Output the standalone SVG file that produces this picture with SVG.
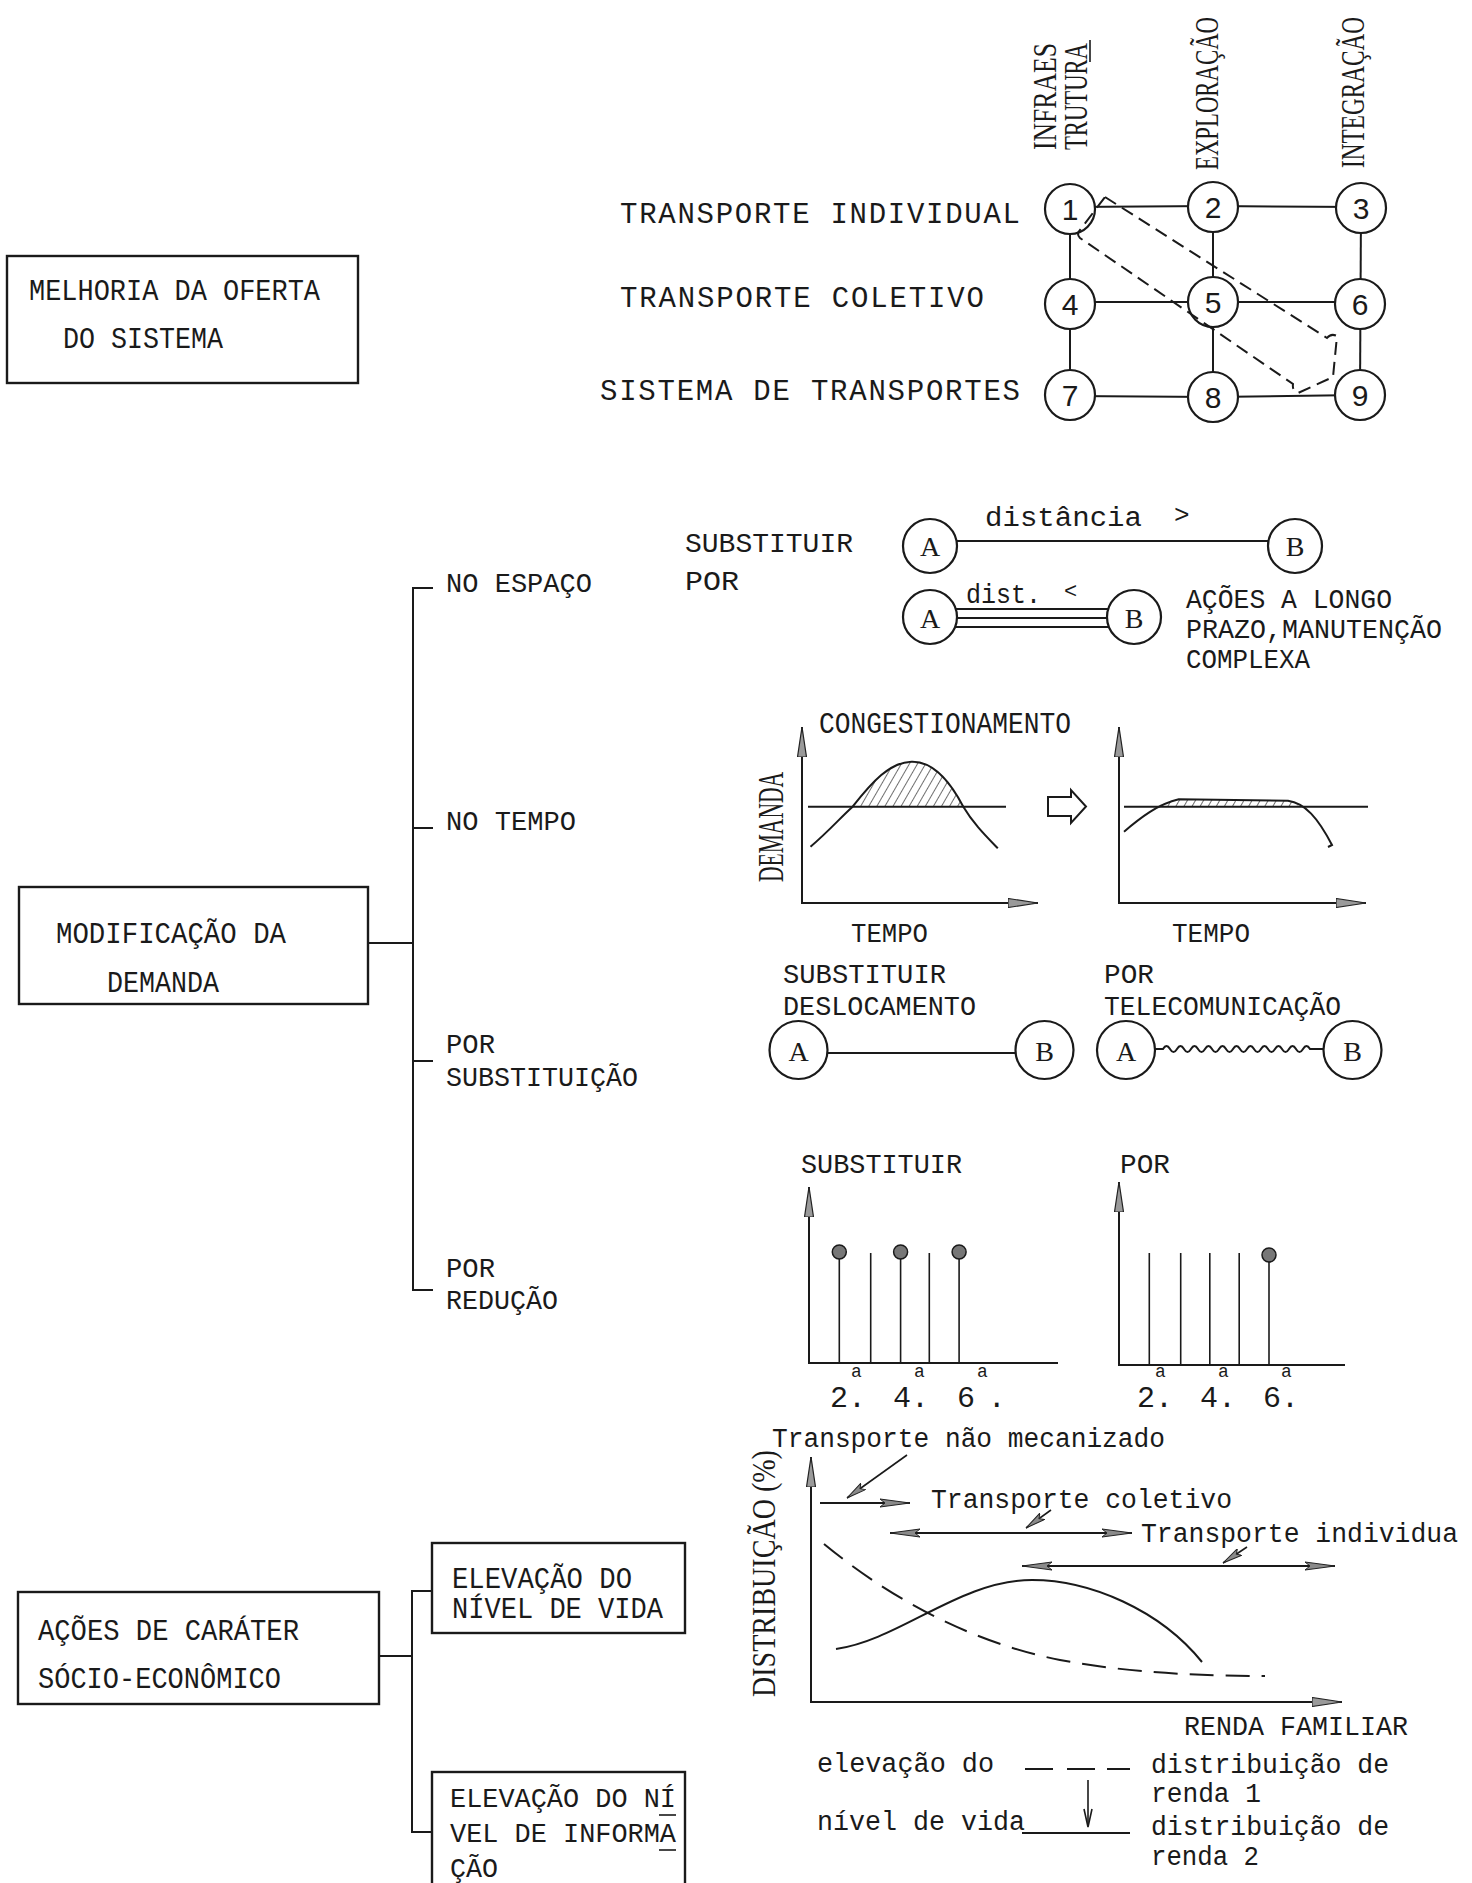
<svg xmlns="http://www.w3.org/2000/svg" width="1472" height="1883" viewBox="0 0 1472 1883">
<style>
text { fill:#1a1a1a; }
.m { font-family:"Liberation Mono", monospace; }
.s { font-family:"Liberation Serif", serif; }
.n { font-family:"Liberation Sans", sans-serif; font-size:30px; text-anchor:middle; }
.ln { stroke:#1a1a1a; stroke-width:2; fill:none; }
.thin { stroke:#1a1a1a; stroke-width:1.6; fill:none; }
.box { fill:none; stroke:#1a1a1a; stroke-width:2.4; }
.nd { fill:#fff; stroke:#1a1a1a; stroke-width:2.2; }
.dot { fill:#777; stroke:#1a1a1a; stroke-width:1.5; }
</style>
<defs>
<marker id="ah" viewBox="0 0 30 10" refX="30" refY="5" markerWidth="30" markerHeight="10" markerUnits="userSpaceOnUse" orient="auto-start-reverse">
<path d="M0,1 L30,5 L0,9 L5,5 Z" fill="#8a8a8a" stroke="#222" stroke-width="1"/>
</marker>
<marker id="ahs" viewBox="0 0 20 9" refX="20" refY="4.5" markerWidth="20" markerHeight="9" markerUnits="userSpaceOnUse" orient="auto">
<path d="M0,0.5 L20,4.5 L0,8.5 L4,4.5 Z" fill="#8a8a8a" stroke="#222" stroke-width="1"/>
</marker>
<marker id="ax" viewBox="0 0 30 10" refX="30" refY="5" markerWidth="30" markerHeight="10" markerUnits="userSpaceOnUse" orient="auto">
<path d="M0,0.5 L30,5 L0,9.5 Z" fill="#9a9a9a" stroke="#222" stroke-width="1.2"/>
</marker>
<pattern id="hatch" patternUnits="userSpaceOnUse" width="7" height="7" patternTransform="rotate(30)">
<line x1="0" y1="0" x2="0" y2="7" stroke="#222" stroke-width="1.3"/>
</pattern>
</defs>
<rect width="1472" height="1883" fill="#fff"/>

<!-- ============ TOP: MELHORIA DA OFERTA ============ -->
<g id="box-melhoria">
<rect class="box" x="7" y="256" width="351" height="127"/>
<text class="m" x="29" y="300" font-size="30" textLength="291" lengthAdjust="spacingAndGlyphs">MELHORIA DA OFERTA</text>
<text class="m" x="63" y="348" font-size="30" textLength="160" lengthAdjust="spacingAndGlyphs">DO SISTEMA</text>
</g>

<g id="grid-labels">
<text class="m" x="620" y="223" font-size="29" textLength="400" lengthAdjust="spacing">TRANSPORTE INDIVIDUAL</text>
<text class="m" x="620" y="307" font-size="29" textLength="364" lengthAdjust="spacing">TRANSPORTE COLETIVO</text>
<text class="m" x="600" y="400" font-size="29" textLength="420" lengthAdjust="spacing">SISTEMA DE TRANSPORTES</text>
<text class="s" transform="translate(1056,150) rotate(-90) scale(0.755,1)" font-size="34" textLength="141.7" lengthAdjust="spacingAndGlyphs">INFRAES</text>
<text class="s" transform="translate(1087,150) rotate(-90) scale(0.667,1)" font-size="34" textLength="160.4" lengthAdjust="spacingAndGlyphs">TRUTURA</text>
<line class="thin" x1="1090" y1="40" x2="1090" y2="62"/>
<text class="s" transform="translate(1218,170) rotate(-90) scale(0.67,1)" font-size="34" textLength="228.4" lengthAdjust="spacingAndGlyphs">EXPLORAÇÃO</text>
<text class="s" transform="translate(1364,168) rotate(-90) scale(0.683,1)" font-size="34" textLength="221.1" lengthAdjust="spacingAndGlyphs">INTEGRAÇÃO</text>
</g>

<g id="grid-edges">
<line class="ln" x1="1070" y1="207" x2="1213" y2="206"/>
<line class="ln" x1="1213" y1="206" x2="1361" y2="207"/>
<line class="ln" x1="1070" y1="302" x2="1213" y2="302"/>
<line class="ln" x1="1213" y1="302" x2="1360" y2="302"/>
<line class="ln" x1="1070" y1="396" x2="1213" y2="397"/>
<line class="ln" x1="1213" y1="397" x2="1360" y2="395"/>
<line class="ln" x1="1070" y1="209" x2="1070" y2="395"/>
<line class="ln" x1="1213" y1="207" x2="1213" y2="397"/>
<line class="ln" x1="1361" y1="208" x2="1360" y2="395"/>
</g>

<g id="node-1"><circle class="nd" cx="1070" cy="209" r="25"/><text class="n" x="1070" y="220">1</text></g>
<g id="node-2"><circle class="nd" cx="1213" cy="207" r="25"/><text class="n" x="1213" y="218">2</text></g>
<g id="node-3"><circle class="nd" cx="1361" cy="208" r="25"/><text class="n" x="1361" y="219">3</text></g>
<g id="node-4"><circle class="nd" cx="1070" cy="304" r="25"/><text class="n" x="1070" y="315">4</text></g>
<g id="node-5"><circle class="nd" cx="1213" cy="302" r="25"/><text class="n" x="1213" y="313">5</text></g>
<g id="node-6"><circle class="nd" cx="1360" cy="304" r="25"/><text class="n" x="1360" y="315">6</text></g>
<g id="node-7"><circle class="nd" cx="1070" cy="395" r="25"/><text class="n" x="1070" y="406">7</text></g>
<g id="node-8"><circle class="nd" cx="1213" cy="397" r="25"/><text class="n" x="1213" y="408">8</text></g>
<g id="node-9"><circle class="nd" cx="1360" cy="395" r="25"/><text class="n" x="1360" y="406">9</text></g>

<g id="dashed-band">
<path class="ln" stroke-dasharray="13,7" d="M1105,197 L1327,338 Q1331,333 1337,336 L1333,377 L1298,393 Q1292,391 1293,384 L1080,238 Q1076,234 1080,230 L1105,197"/>
</g>

<!-- ============ MIDDLE: MODIFICAÇÃO DA DEMANDA ============ -->
<g id="box-modificacao">
<rect class="box" x="19" y="887" width="349" height="117"/>
<text class="m" x="56" y="943" font-size="30" textLength="230" lengthAdjust="spacingAndGlyphs">MODIFICAÇÃO DA</text>
<text class="m" x="107" y="992" font-size="30" textLength="112" lengthAdjust="spacingAndGlyphs">DEMANDA</text>
</g>

<g id="connectors">
<line class="ln" x1="368" y1="943" x2="413" y2="943"/>
<line class="ln" x1="413" y1="587" x2="413" y2="1291"/>
<line class="ln" x1="412" y1="588" x2="433" y2="588"/>
<line class="ln" x1="412" y1="828" x2="433" y2="828"/>
<line class="ln" x1="412" y1="1061" x2="433" y2="1061"/>
<line class="ln" x1="412" y1="1290" x2="433" y2="1290"/>
<line class="ln" x1="379" y1="1656" x2="412" y2="1656"/>
<line class="ln" x1="412" y1="1590" x2="412" y2="1833"/>
<line class="ln" x1="411" y1="1591" x2="432" y2="1591"/>
<line class="ln" x1="411" y1="1832" x2="432" y2="1832"/>
</g>

<g id="branch-espaco"><text class="m" x="446" y="592" font-size="28" textLength="146" lengthAdjust="spacingAndGlyphs">NO ESPAÇO</text></g>
<g id="branch-tempo"><text class="m" x="446" y="830" font-size="28" textLength="130" lengthAdjust="spacingAndGlyphs">NO TEMPO</text></g>
<g id="branch-substituicao">
<text class="m" x="446" y="1053" font-size="28" textLength="49" lengthAdjust="spacingAndGlyphs">POR</text>
<text class="m" x="446" y="1086" font-size="28" textLength="192" lengthAdjust="spacingAndGlyphs">SUBSTITUIÇÃO</text>
</g>
<g id="branch-reducao">
<text class="m" x="446" y="1277" font-size="28" textLength="49" lengthAdjust="spacingAndGlyphs">POR</text>
<text class="m" x="446" y="1309" font-size="28" textLength="112" lengthAdjust="spacingAndGlyphs">REDUÇÃO</text>
</g>

<!-- NO ESPAÇO illustration -->
<g id="espaco-fig">
<text class="m" x="685" y="552" font-size="28" textLength="168" lengthAdjust="spacingAndGlyphs">SUBSTITUIR</text>
<text class="m" x="685" y="590" font-size="28" textLength="54" lengthAdjust="spacingAndGlyphs">POR</text>
<line class="ln" x1="956" y1="541" x2="1268" y2="541"/>
<circle class="nd" cx="930" cy="546" r="27"/><text class="s" x="930" y="556" font-size="28" text-anchor="middle">A</text>
<circle class="nd" cx="1295" cy="546" r="27"/><text class="s" x="1295" y="556" font-size="28" text-anchor="middle">B</text>
<text class="m" x="985" y="526" font-size="27" textLength="157" lengthAdjust="spacingAndGlyphs">distância</text>
<text class="m" x="1174" y="523" font-size="26">&gt;</text>
<line class="ln" x1="955" y1="609" x2="1108" y2="609"/>
<line class="ln" x1="957" y1="618" x2="1107" y2="618"/>
<line class="ln" x1="955" y1="627" x2="1108" y2="627"/>
<circle class="nd" cx="930" cy="617" r="27"/><text class="s" x="930" y="628" font-size="28" text-anchor="middle">A</text>
<circle class="nd" cx="1134" cy="617" r="27"/><text class="s" x="1134" y="628" font-size="28" text-anchor="middle">B</text>
<text class="m" x="966" y="603" font-size="27" textLength="75" lengthAdjust="spacingAndGlyphs">dist.</text>
<text class="m" x="1064" y="598" font-size="22">&lt;</text>
<text class="m" x="1186" y="608" font-size="28" textLength="206" lengthAdjust="spacingAndGlyphs">AÇÕES A LONGO</text>
<text class="m" x="1186" y="638" font-size="28" textLength="256" lengthAdjust="spacingAndGlyphs">PRAZO,MANUTENÇÃO</text>
<text class="m" x="1186" y="668" font-size="28" textLength="124" lengthAdjust="spacingAndGlyphs">COMPLEXA</text>
</g>

<!-- NO TEMPO illustration -->
<g id="tempo-fig">
<text class="m" x="819" y="733" font-size="30" textLength="252" lengthAdjust="spacingAndGlyphs">CONGESTIONAMENTO</text>
<text class="s" transform="translate(783,882) rotate(-90) scale(0.598,1)" font-size="36" textLength="184" lengthAdjust="spacingAndGlyphs">DEMANDA</text>
<line class="ln" x1="802" y1="904" x2="802" y2="727" marker-end="url(#ax)"/>
<line class="ln" x1="801" y1="903" x2="1038" y2="903" marker-end="url(#ax)"/>
<path d="M852.6,806.7 C872,782 890,762 911.5,761.7 C935,761 952,785 963.3,806.7 Z" fill="url(#hatch)"/>
<line class="ln" x1="808" y1="806.7" x2="1006" y2="806.7"/>
<path class="ln" d="M810.5,846.7 C830,830 840,818 852.6,806.7 C872,782 890,762 911.5,761.7 C935,761 952,785 963.3,806.7 C973,823 985,835 997.8,848.3"/>
<text class="m" x="851" y="942" font-size="28" textLength="77" lengthAdjust="spacingAndGlyphs">TEMPO</text>
<path d="M1048,797 L1071,797 L1071,790 L1086,806.5 L1071,823 L1071,816 L1048,816 Z" fill="#fff" stroke="#1a1a1a" stroke-width="2"/>
<line class="ln" x1="1119" y1="904" x2="1119" y2="727" marker-end="url(#ax)"/>
<line class="ln" x1="1118" y1="903" x2="1366" y2="903" marker-end="url(#ax)"/>
<path d="M1157,806.7 C1165,802 1172,800 1178.8,799.3 L1288,800.7 C1292,802 1296,804 1298.7,806.7 Z" fill="url(#hatch)"/>
<line class="ln" x1="1124" y1="806.7" x2="1368" y2="806.7"/>
<path class="ln" d="M1124,831.7 C1140,818 1158,804 1178.8,799.3 L1288,800.7 C1305,803 1318,818 1332,845 L1328,847"/>
<text class="m" x="1172" y="942" font-size="28" textLength="78" lengthAdjust="spacingAndGlyphs">TEMPO</text>
</g>

<!-- POR SUBSTITUIÇÃO illustration -->
<g id="substituicao-fig">
<text class="m" x="783" y="983" font-size="28" textLength="163" lengthAdjust="spacingAndGlyphs">SUBSTITUIR</text>
<text class="m" x="783" y="1015" font-size="28" textLength="193" lengthAdjust="spacingAndGlyphs">DESLOCAMENTO</text>
<text class="m" x="1104" y="983" font-size="28" textLength="50" lengthAdjust="spacingAndGlyphs">POR</text>
<text class="m" x="1104" y="1015" font-size="28" textLength="237" lengthAdjust="spacingAndGlyphs">TELECOMUNICAÇÃO</text>
<line class="ln" x1="828" y1="1053" x2="1016" y2="1053"/>
<circle class="nd" cx="798.5" cy="1050" r="29"/><text class="s" x="798.5" y="1061" font-size="28" text-anchor="middle">A</text>
<circle class="nd" cx="1044.5" cy="1050" r="29"/><text class="s" x="1044.5" y="1061" font-size="28" text-anchor="middle">B</text>
<path class="ln" d="M1155,1049 L1163,1049 q3.5,-6 7,0 t7,0 t7,0 t7,0 t7,0 t7,0 t7,0 t7,0 t7,0 t7,0 t7,0 t7,0 t7,0 t7,0 t7,0 t7,0 t7,0 t7,0 t7,0 t7,0 t7,0 L1324,1049"/>
<circle class="nd" cx="1126" cy="1050" r="29"/><text class="s" x="1126" y="1061" font-size="28" text-anchor="middle">A</text>
<circle class="nd" cx="1352.5" cy="1050" r="29"/><text class="s" x="1352.5" y="1061" font-size="28" text-anchor="middle">B</text>
</g>

<!-- POR REDUÇÃO illustration -->
<g id="reducao-fig">
<text class="m" x="801" y="1173" font-size="28" textLength="161" lengthAdjust="spacingAndGlyphs">SUBSTITUIR</text>
<line class="ln" x1="809" y1="1364" x2="809" y2="1187" marker-end="url(#ax)"/>
<line class="ln" x1="808" y1="1363" x2="1058" y2="1363"/>
<line class="thin" x1="839.3" y1="1363" x2="839.3" y2="1252"/>
<line class="thin" x1="870.7" y1="1363" x2="870.7" y2="1253"/>
<line class="thin" x1="900.6" y1="1363" x2="900.6" y2="1252"/>
<line class="thin" x1="929.3" y1="1363" x2="929.3" y2="1253"/>
<line class="thin" x1="959.1" y1="1363" x2="959.1" y2="1252"/>
<circle class="dot" cx="839.3" cy="1252" r="7"/>
<circle class="dot" cx="900.6" cy="1252" r="7"/>
<circle class="dot" cx="959.1" cy="1252" r="7"/>
<text class="m" x="830" y="1407" font-size="30">2.<tspan dx="-15" dy="-30" font-size="18">a</tspan></text>
<text class="m" x="893" y="1407" font-size="30">4.<tspan dx="-15" dy="-30" font-size="18">a</tspan></text>
<text class="m" x="957" y="1407" font-size="30">6<tspan dx="2" dy="-30" font-size="18">a</tspan><tspan dy="30">.</tspan></text>

<text class="m" x="1120" y="1173" font-size="28" textLength="50" lengthAdjust="spacingAndGlyphs">POR</text>
<line class="ln" x1="1119" y1="1366" x2="1119" y2="1182" marker-end="url(#ax)"/>
<line class="ln" x1="1118" y1="1365" x2="1345" y2="1365"/>
<line class="thin" x1="1149.3" y1="1365" x2="1149.3" y2="1253"/>
<line class="thin" x1="1180.7" y1="1365" x2="1180.7" y2="1253"/>
<line class="thin" x1="1209.8" y1="1365" x2="1209.8" y2="1253"/>
<line class="thin" x1="1239.2" y1="1365" x2="1239.2" y2="1253"/>
<line class="thin" x1="1269" y1="1365" x2="1269" y2="1255"/>
<circle class="dot" cx="1269" cy="1255" r="7"/>
<text class="m" x="1137" y="1407" font-size="30">2.<tspan dx="-18" dy="-30" font-size="18">a</tspan></text>
<text class="m" x="1200" y="1407" font-size="30">4.<tspan dx="-18" dy="-30" font-size="18">a</tspan></text>
<text class="m" x="1263" y="1407" font-size="30">6.<tspan dx="-18" dy="-30" font-size="18">a</tspan></text>
</g>

<!-- ============ BOTTOM: AÇÕES DE CARÁTER SÓCIO-ECONÔMICO ============ -->
<g id="box-acoes">
<rect class="box" x="18" y="1592" width="361" height="112"/>
<text class="m" x="38" y="1640" font-size="29" textLength="261" lengthAdjust="spacingAndGlyphs">AÇÕES DE CARÁTER</text>
<text class="m" x="38" y="1688" font-size="29" textLength="243" lengthAdjust="spacingAndGlyphs">SÓCIO-ECONÔMICO</text>
</g>
<g id="box-nivel-vida">
<rect class="box" x="432" y="1543" width="253" height="90"/>
<text class="m" x="452" y="1588" font-size="29" textLength="180" lengthAdjust="spacingAndGlyphs">ELEVAÇÃO DO</text>
<text class="m" x="452" y="1618" font-size="29" textLength="211" lengthAdjust="spacingAndGlyphs">NÍVEL DE VIDA</text>
</g>
<g id="box-nivel-informacao">
<rect class="box" x="432" y="1772" width="253" height="130"/>
<text class="m" x="450" y="1807" font-size="28" textLength="226" lengthAdjust="spacingAndGlyphs">ELEVAÇÃO DO NÍ</text>
<text class="m" x="450" y="1842" font-size="28" textLength="226" lengthAdjust="spacingAndGlyphs">VEL DE INFORMA</text>
<text class="m" x="450" y="1877" font-size="28" textLength="48" lengthAdjust="spacingAndGlyphs">ÇÃO</text>
<line class="thin" x1="659" y1="1815" x2="676" y2="1815"/>
<line class="thin" x1="659" y1="1850" x2="676" y2="1850"/>
</g>

<!-- Distribution chart -->
<g id="distribuicao-fig">
<text class="m" x="772" y="1447" font-size="27" textLength="393" lengthAdjust="spacingAndGlyphs">Transporte não mecanizado</text>
<text class="s" transform="translate(775,1697) rotate(-90) scale(0.826,1)" font-size="34" textLength="299" lengthAdjust="spacingAndGlyphs">DISTRIBUIÇÃO (%)</text>
<line class="ln" x1="811" y1="1703" x2="811" y2="1457" marker-end="url(#ax)"/>
<line class="ln" x1="810" y1="1702" x2="1342" y2="1702" marker-end="url(#ax)"/>
<line class="thin" x1="907" y1="1455" x2="847" y2="1498" marker-end="url(#ahs)"/>
<line class="ln" x1="820" y1="1503" x2="910" y2="1503" marker-end="url(#ah)"/>
<text class="m" x="931" y="1508" font-size="27" textLength="301" lengthAdjust="spacingAndGlyphs">Transporte coletivo</text>
<line class="thin" x1="1051" y1="1510" x2="1026" y2="1528" marker-end="url(#ahs)"/>
<line class="ln" x1="890" y1="1533" x2="1132" y2="1533" marker-start="url(#ah)" marker-end="url(#ah)"/>
<text class="m" x="1141" y="1542" font-size="27" textLength="317" lengthAdjust="spacingAndGlyphs">Transporte individua</text>
<line class="thin" x1="1247" y1="1547" x2="1223" y2="1563" marker-end="url(#ahs)"/>
<line class="ln" x1="1022" y1="1566" x2="1335" y2="1566" marker-start="url(#ah)" marker-end="url(#ah)"/>
<path class="ln" stroke-width="2.4" d="M836,1649 C900,1640 960,1580 1032,1580 C1090,1580 1160,1610 1202,1662"/>
<path class="ln" stroke-width="2.6" stroke-dasharray="24,12" d="M824,1544 C880,1590 960,1640 1060,1660 C1130,1673 1200,1676 1265,1676"/>
<text class="m" x="1184" y="1735" font-size="28" textLength="224" lengthAdjust="spacingAndGlyphs">RENDA FAMILIAR</text>
</g>

<!-- Legend -->
<g id="legenda">
<text class="m" x="817" y="1772" font-size="27" textLength="177" lengthAdjust="spacingAndGlyphs">elevação do</text>
<text class="m" x="817" y="1830" font-size="27" textLength="208" lengthAdjust="spacingAndGlyphs">nível de vida</text>
<path class="ln" stroke-width="2.6" d="M1025,1769 L1053,1769 M1067,1769 L1095,1769 M1107,1769 L1130,1769"/>
<line class="ln" x1="1022" y1="1833" x2="1130" y2="1833"/>
<line class="thin" x1="1088" y1="1780" x2="1088" y2="1826"/>
<polyline class="thin" points="1084,1809 1088,1827 1092,1809"/>
<text class="m" x="1151" y="1773" font-size="27" textLength="238" lengthAdjust="spacingAndGlyphs">distribuição de</text>
<text class="m" x="1151" y="1802" font-size="27" textLength="110" lengthAdjust="spacingAndGlyphs">renda 1</text>
<text class="m" x="1151" y="1835" font-size="27" textLength="238" lengthAdjust="spacingAndGlyphs">distribuição de</text>
<text class="m" x="1151" y="1865" font-size="27" textLength="108" lengthAdjust="spacingAndGlyphs">renda 2</text>
</g>
</svg>
